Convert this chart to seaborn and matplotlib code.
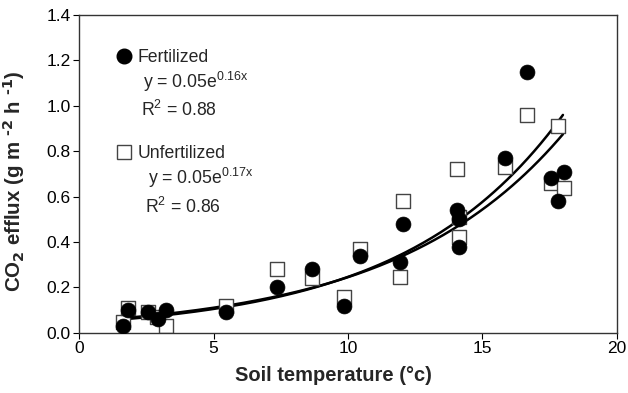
import numpy as np
import pandas as pd
import matplotlib
matplotlib.use("Agg")
import matplotlib.pyplot as plt
from matplotlib.lines import Line2D
import seaborn as sns

# ---------------- data ----------------
fert_temp = [1.65, 1.8, 2.55, 2.95, 3.25, 5.45, 7.35, 8.65, 9.85, 10.45,
             11.95, 12.05, 14.05, 14.15, 14.15, 15.85, 16.65, 17.55, 17.8, 18.05]
fert_flux = [0.03, 0.10, 0.09, 0.06, 0.10, 0.09, 0.20, 0.28, 0.12, 0.34,
             0.31, 0.48, 0.54, 0.50, 0.38, 0.77, 1.15, 0.68, 0.58, 0.71]

unfert_temp = [1.65, 1.8, 2.55, 2.9, 3.25, 5.45, 7.35, 8.65, 9.85, 10.45,
               11.95, 12.05, 14.05, 14.15, 14.15, 15.85, 16.65, 17.55, 17.8, 18.05]
unfert_flux = [0.05, 0.11, 0.09, 0.07, 0.03, 0.12, 0.28, 0.24, 0.16, 0.37,
               0.245, 0.58, 0.72, 0.51, 0.42, 0.73, 0.96, 0.66, 0.91, 0.64]

# exponential fits (coefficients tuned to the drawn curves)
fit_a = [0.045, 0.050]
fit_b = [0.170, 0.159]
fit_range = (1.6, 18.0)

df = pd.DataFrame({
    "temp": fert_temp + unfert_temp,
    "flux": fert_flux + unfert_flux,
    "group": ["Fertilized"] * len(fert_temp) + ["Unfertilized"] * len(unfert_temp),
})

# ---------------- style ----------------
sns.set_style("ticks")
plt.rcParams["font.family"] = ["Liberation Sans", "DejaVu Sans"]
plt.rcParams["mathtext.default"] = "regular"

fig = plt.figure(figsize=(6.28, 3.93), dpi=100)
ax = fig.add_axes([0.126, 0.153, 0.856, 0.809])

# fitted curves
xs = np.linspace(fit_range[0], fit_range[1], 200)
for a, b in zip(fit_a, fit_b):
    ax.plot(xs, a * np.exp(b * xs), color="black", lw=1.8, zorder=1)

# unfertilized first so the filled circles sit on top
sub = df[df.group == "Unfertilized"]
sns.scatterplot(data=sub, x="temp", y="flux", marker="s", s=110,
                facecolor="white", edgecolor="#444444", linewidth=1.0,
                ax=ax, zorder=2, legend=False)
sub = df[df.group == "Fertilized"]
sns.scatterplot(data=sub, x="temp", y="flux", marker="o", s=115,
                color="black", edgecolor="black", linewidth=0.5,
                ax=ax, zorder=3, legend=False)

ax.set_xlim(0, 20)
ax.set_ylim(0, 1.4)
ax.set_xticks([0, 5, 10, 15, 20])
yt = np.arange(0, 1.41, 0.2)
ax.set_yticks(yt)
ax.set_yticklabels([f"{v:.1f}" for v in yt])
ax.tick_params(axis="both", direction="out", length=4, pad=2, labelsize=12.5, colors="black")
for sp in ax.spines.values():
    sp.set_visible(True)
    sp.set_color("#333333")
    sp.set_linewidth(1.0)

ax.set_xlabel("Soil temperature (°c)", fontsize=14.5, fontweight="bold")
# U+2010 hyphen keeps mathtext from turning it into a minus sign
ax.set_ylabel("CO$_\\mathbf{2}$ efflux (g m $^{\\mathbf{\u20102}}$ h $^{\\mathbf{\u20101}}$)",
              fontsize=14.8, fontweight="bold")
ax.xaxis.set_label_coords(0.474, -0.105)
ax.yaxis.set_label_coords(-0.097, 0.478)

# legend blocks
h_fert = Line2D([], [], marker="o", color="black", ls="none", markersize=10.5)
h_unf = Line2D([], [], marker="s", markerfacecolor="white", markeredgecolor="#444444",
               ls="none", markersize=10)
leg_kw = dict(loc="center left", frameon=False, fontsize=12.7, handlelength=0.9,
              handletextpad=0.35, borderpad=0, borderaxespad=0)
leg1 = ax.legend([h_fert], ["Fertilized"], bbox_to_anchor=(0.068, 0.865), **leg_kw)
ax.add_artist(leg1)
ax.legend([h_unf], ["Unfertilized"], bbox_to_anchor=(0.068, 0.563), **leg_kw)

ax.text(0.119, 0.789, r"y = 0.05e$^{0.16x}$", transform=ax.transAxes, fontsize=12.7, va="center")
ax.text(0.115, 0.701, r"R$^{2}$ = 0.88", transform=ax.transAxes, fontsize=12.7, va="center")
ax.text(0.128, 0.487, r"y = 0.05e$^{0.17x}$", transform=ax.transAxes, fontsize=12.7, va="center")
ax.text(0.123, 0.396, r"R$^{2}$ = 0.86", transform=ax.transAxes, fontsize=12.7, va="center")

fig.savefig("out.png", dpi=100)
